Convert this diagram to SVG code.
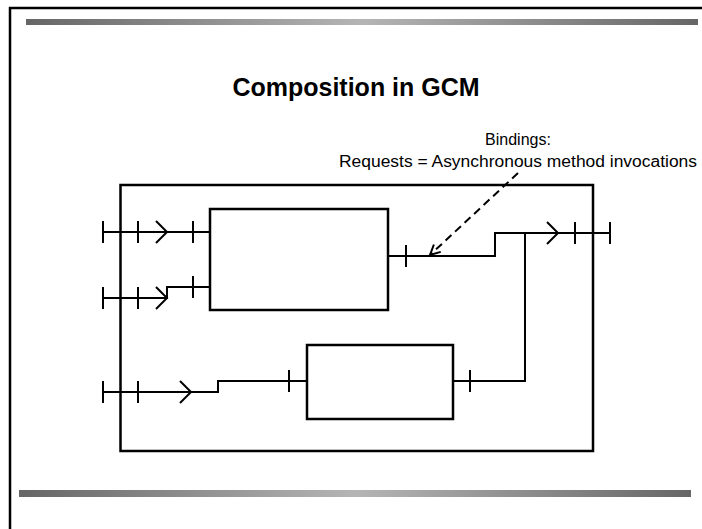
<svg xmlns="http://www.w3.org/2000/svg" width="702" height="529" viewBox="0 0 702 529">
<defs>
<linearGradient id="bar" x1="0" y1="0" x2="1" y2="0">
<stop offset="0" stop-color="#666666"/>
<stop offset="0.5" stop-color="#b5b5b5"/>
<stop offset="1" stop-color="#666666"/>
</linearGradient>
<marker id="open" viewBox="0 0 12 12" refX="11" refY="6" markerWidth="12" markerHeight="12" markerUnits="userSpaceOnUse" orient="auto">
<path d="M1,1 L11,6 L1,11" fill="none" stroke="#000" stroke-width="2"/>
</marker>
<style>
.box{fill:#fff;stroke:#000;stroke-width:2.5}
.ln{fill:none;stroke:#000;stroke-width:2}
.tick{stroke:#000;stroke-width:2}
.dash{fill:none;stroke:#000;stroke-width:2;stroke-dasharray:8 5}
.title{font-family:"Liberation Sans",Arial,sans-serif;font-weight:bold;font-size:25px}
.lbl{font-family:"Liberation Sans",Arial,sans-serif;font-size:16px}
</style>
</defs>
<rect width="702" height="529" fill="#fff"/>
<g id="frame">
<line x1="9" y1="8" x2="702" y2="8" stroke="#000" stroke-width="2.5"/>
<line x1="10" y1="7" x2="10" y2="529" stroke="#000" stroke-width="2.5"/>
<rect x="26" y="19" width="672" height="6" fill="url(#bar)"/>
<rect x="19" y="490" width="672" height="7" fill="url(#bar)"/>
</g>
<text class="title" x="356" y="96" text-anchor="middle">Composition in GCM</text>
<g id="composite"><rect class="box" x="120.5" y="185" width="472.5" height="266"/></g>
<g id="comp1"><rect class="box" x="210" y="209" width="178" height="101"/></g>
<g id="comp2"><rect class="box" x="307" y="345" width="146" height="74"/></g>
<g id="connectors">
<path class="ln" d="M103,232 H210"/>
<path class="ln" d="M156,221 L167,232 L156,243"/>
<path class="ln" d="M103,298 H167 V287 H210"/>
<path class="ln" d="M156,287 L167,298 L156,309"/>
<path class="ln" d="M103,392 H218 V381 H307"/>
<path class="ln" d="M180,381 L191,392 L180,403"/>
<path class="ln" d="M453,381 H525 V233"/>
<path class="ln" d="M388,256 H495 V233 H610"/>
<path class="ln" d="M547,222 L558,233 L547,244"/>
<g class="tick">
<line x1="103" y1="221" x2="103" y2="243"/>
<line x1="138" y1="221" x2="138" y2="243"/>
<line x1="193" y1="221" x2="193" y2="243"/>
<line x1="103" y1="287" x2="103" y2="309"/>
<line x1="138" y1="287" x2="138" y2="309"/>
<line x1="193" y1="276" x2="193" y2="298"/>
<line x1="103" y1="381" x2="103" y2="403"/>
<line x1="138" y1="381" x2="138" y2="403"/>
<line x1="289" y1="370" x2="289" y2="392"/>
<line x1="470" y1="370" x2="470" y2="392"/>
<line x1="406" y1="245" x2="406" y2="267"/>
<line x1="575" y1="222" x2="575" y2="244"/>
<line x1="610" y1="222" x2="610" y2="244"/>
</g>
<path class="dash" d="M518,173 L430,255" marker-end="url(#open)"/>
</g>
<g id="label">
<text class="lbl" x="518" y="145" text-anchor="middle">Bindings:</text>
<text class="lbl" x="339" y="167" textLength="358" lengthAdjust="spacingAndGlyphs">Requests = Asynchronous method invocations</text>
</g>
</svg>
